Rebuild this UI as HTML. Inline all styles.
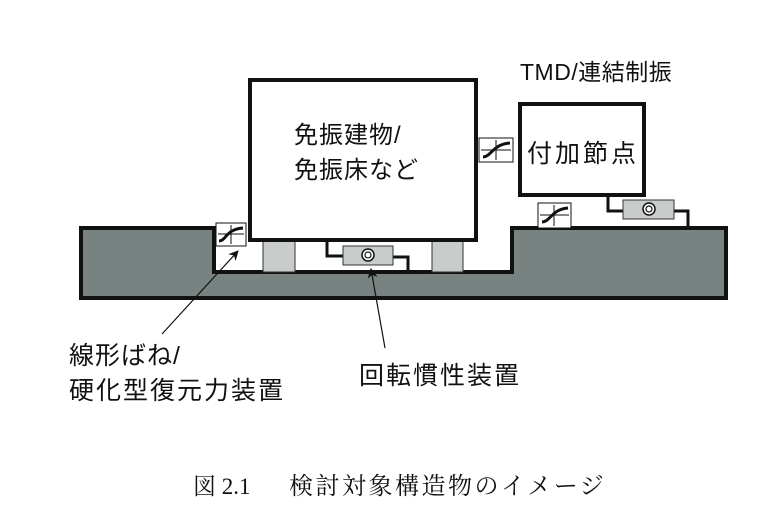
<!DOCTYPE html>
<html><head><meta charset="utf-8"><style>
html,body{margin:0;padding:0;background:#fff;}
svg text{font-family:"Liberation Sans","Noto Sans CJK JP",sans-serif;fill:#111;}
</style></head><body>
<svg width="776" height="502" viewBox="0 0 776 502" xmlns="http://www.w3.org/2000/svg">
<defs><marker id="ah" markerWidth="10" markerHeight="10" refX="9" refY="5" orient="auto" markerUnits="userSpaceOnUse"><path d="M0,0 L10,5 L0,10 L3,5 Z" fill="#111"/></marker></defs>
<path d="M81,228 L214,228 L214,272 L512,272 L512,228 L726,228 L726,298 L81,298 Z" fill="#788280" stroke="#111" stroke-width="4" stroke-linejoin="miter"/>
<rect x="263" y="240" width="32" height="32" fill="#c8cdcc" stroke="#333" stroke-width="1"/>
<rect x="432" y="240" width="31" height="32" fill="#c8cdcc" stroke="#333" stroke-width="1"/>
<rect x="250" y="80" width="226" height="160" fill="#fff" stroke="#111" stroke-width="4"/>
<path d="M327,240 L327,256 L343,256" fill="none" stroke="#111" stroke-width="3"/>
<path d="M393,257 L408,257 L408,272" fill="none" stroke="#111" stroke-width="3"/>
<rect x="343" y="246" width="50" height="19" fill="#c8cdcc" stroke="#333" stroke-width="1"/>
<circle cx="368" cy="255" r="6" fill="#fff" stroke="#111" stroke-width="1.5"/>
<circle cx="368" cy="255" r="3" fill="none" stroke="#111" stroke-width="1.2"/>
<g stroke="#111" fill="#fff">
<rect x="216" y="223" width="30" height="23" stroke-width="1"/>
<rect x="479" y="138" width="34" height="24" stroke-width="1"/>
<rect x="538" y="203" width="33" height="25" stroke-width="1"/>
</g>
<g stroke="#111" fill="none">
<path d="M231,225 V244 M218,234 H244" stroke-width="1"/>
<path d="M219,241 C226,241 226,229 243,228" stroke-width="3"/>
<path d="M496,140 V160 M481,150 H511" stroke-width="1"/>
<path d="M483,157 C491,157 493,144 510,143" stroke-width="3"/>
<path d="M554,205 V226 M540,215 H569" stroke-width="1"/>
<path d="M542,222 C550,222 552,209 568,208" stroke-width="3"/>
</g>
<rect x="520" y="104" width="124" height="91" fill="#fff" stroke="#111" stroke-width="4"/>
<path d="M608,195 L608,211 L623,211" fill="none" stroke="#111" stroke-width="3"/>
<path d="M674,211 L688,211 L688,228" fill="none" stroke="#111" stroke-width="3"/>
<rect x="623" y="200" width="51" height="19" fill="#c8cdcc" stroke="#333" stroke-width="1"/>
<circle cx="649" cy="209" r="6" fill="#fff" stroke="#111" stroke-width="1.5"/>
<circle cx="649" cy="209" r="3" fill="none" stroke="#111" stroke-width="1.2"/>
<line x1="162" y1="334" x2="238" y2="251" stroke="#111" stroke-width="1.2" marker-end="url(#ah)"/>
<line x1="385" y1="348" x2="371" y2="269" stroke="#111" stroke-width="1.2" marker-end="url(#ah)"/>
<text x="294" y="143" font-size="24" letter-spacing="1">免振建物/</text>
<text x="294" y="178" font-size="24" letter-spacing="1">免振床など</text>
<text x="520" y="80" font-size="23" letter-spacing="0.5">TMD/連結制振</text>
<text x="527" y="162" font-size="25" letter-spacing="3">付加節点</text>
<text x="69" y="364" font-size="25" letter-spacing="1">線形ばね/</text>
<text x="69" y="399" font-size="25" letter-spacing="2">硬化型復元力装置</text>
<text x="359" y="384" font-size="25" letter-spacing="2">回転慣性装置</text>
<text x="193" y="494" font-size="23" style="font-family:'Liberation Serif','Noto Serif CJK SC',serif">図 2.1</text>
<text x="289" y="494" font-size="24" letter-spacing="2.5" style="font-family:'Liberation Serif','Noto Serif CJK SC',serif">検討対象構造物のイメージ</text>
</svg>
</body></html>
